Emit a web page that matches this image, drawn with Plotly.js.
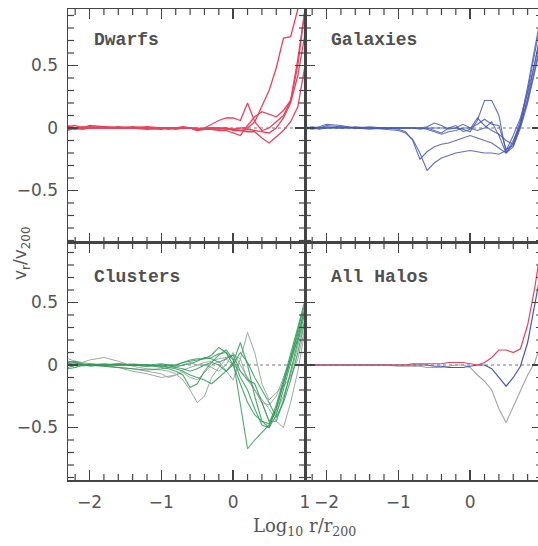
<!DOCTYPE html>
<html>
<head>
<meta charset="utf-8">
<script src="https://cdn.plot.ly/plotly-3.0.1.min.js"></script>
<style>
html,body{margin:0;padding:0;overflow:hidden;background:#fff;}
#chart{width:544px;height:546px;}
</style>
</head>
<body>
<div id="chart"></div>
<script>
// Shared log10 r/r200 sampling
const logR = [-2.3,-2.2,-2.1,-2.0,-1.8,-1.6,-1.4,-1.2,-1.0,-0.9,-0.8,-0.7,-0.6,-0.5,-0.4,-0.3,-0.2,-0.1,0.0,0.1,0.2,0.3,0.4,0.5,0.6,0.7,0.8,0.9,1.0,1.1];

// Dwarfs (red)
const dwarf1 = [0.01,0.02,0.0,0.02,0.01,0.0,0.0,0.01,0.0,0.0,0.0,0.01,0.0,-0.01,0.0,0.03,0.06,0.08,0.08,0.06,0.20,0.05,-0.02,0.0,0.05,0.10,0.22,0.55,0.95,1.40];
const dwarf2 = [-0.02,0.0,0.01,0.0,0.0,0.01,0.0,0.0,0.0,-0.01,0.0,0.0,0.0,-0.01,-0.01,0.0,0.0,-0.01,-0.01,0.0,0.0,0.05,0.17,0.30,0.48,0.72,0.73,0.95,1.30,1.70];
const dwarf3 = [0.0,-0.01,0.0,0.0,0.01,0.0,0.0,0.0,-0.01,0.0,0.0,0.0,0.0,-0.02,-0.01,-0.01,-0.02,-0.02,-0.04,-0.06,0.02,0.09,0.13,0.11,0.09,0.14,0.22,0.50,0.95,1.40];
const dwarf4 = [0.02,0.0,-0.01,0.0,0.0,0.0,0.01,0.0,0.0,0.0,-0.01,0.0,0.0,-0.02,0.0,0.0,-0.01,0.0,-0.02,-0.02,-0.03,-0.03,-0.08,-0.12,-0.07,-0.02,0.05,0.17,0.50,1.00];
const dwarf5 = [-0.01,0.0,0.0,0.01,0.0,0.0,0.0,-0.01,0.0,0.0,0.0,0.0,0.0,0.0,-0.01,0.0,0.0,0.0,-0.01,-0.02,-0.01,-0.02,-0.03,-0.04,0.0,0.08,0.20,0.42,0.75,1.20];

// Galaxies (blue)
const gal1 = [0.0,0.01,0.0,0.02,0.01,0.0,0.0,-0.01,-0.02,-0.04,-0.09,-0.20,-0.34,-0.28,-0.24,-0.22,-0.20,-0.19,-0.18,-0.19,-0.20,-0.20,-0.21,-0.18,-0.06,0.08,0.28,0.52,0.80,1.10];
const gal2 = [0.01,0.0,0.01,0.03,0.02,0.0,0.0,0.0,-0.01,-0.03,-0.10,-0.25,-0.19,-0.15,-0.13,-0.12,-0.10,-0.08,-0.06,-0.08,-0.10,-0.12,-0.16,-0.20,-0.10,0.03,0.22,0.47,0.75,1.05];
const gal3 = [0.0,0.0,-0.01,0.0,0.0,0.01,0.0,0.0,0.0,0.0,0.0,-0.01,0.0,0.0,0.0,0.0,0.0,-0.01,-0.03,0.06,0.22,0.22,0.10,-0.20,-0.15,0.0,0.20,0.45,0.70,1.00];
const gal4 = [-0.01,0.0,0.0,0.01,0.0,0.0,0.01,0.0,0.0,0.0,0.0,0.0,0.0,-0.02,-0.04,0.0,0.02,-0.03,-0.01,0.08,0.02,-0.02,-0.05,-0.10,-0.13,0.02,0.24,0.52,0.82,1.10];
const gal5 = [0.0,0.0,0.0,0.0,0.01,0.0,0.0,0.0,0.0,0.0,0.0,0.0,0.01,0.04,0.02,-0.01,0.0,0.03,0.0,0.03,0.07,0.03,0.02,-0.17,-0.14,0.03,0.30,0.60,0.92,1.20];
const gal6 = [0.0,-0.01,0.0,0.0,0.0,0.0,-0.01,0.0,0.0,0.0,0.0,0.0,-0.01,-0.03,-0.05,-0.03,-0.02,0.0,0.0,-0.02,0.0,0.05,-0.06,-0.20,-0.12,0.06,0.33,0.64,0.96,1.25];

// Clusters (green / grey-green)
const clu1 = [0.03,0.02,0.0,0.01,0.0,0.0,0.0,-0.01,0.0,-0.02,0.0,0.02,0.03,0.04,0.05,0.06,0.09,0.10,0.04,-0.30,-0.67,-0.60,-0.54,-0.48,-0.35,-0.16,0.05,0.25,0.45,0.65];
const clu2 = [0.0,-0.02,0.0,0.0,-0.01,-0.02,-0.05,-0.07,-0.10,-0.09,-0.08,-0.06,-0.10,-0.12,-0.06,0.0,0.03,-0.05,-0.12,0.05,0.26,0.10,-0.15,-0.28,-0.22,-0.17,-0.10,0.05,0.30,0.55];
const clu3 = [0.02,0.03,0.01,0.0,0.0,0.01,0.0,0.0,-0.01,0.0,-0.02,-0.03,-0.05,-0.03,0.0,0.02,0.0,-0.05,0.02,0.18,0.0,-0.25,-0.45,-0.50,-0.35,-0.15,0.05,0.28,0.50,0.70];
const clu4 = [-0.03,-0.02,0.0,0.0,0.01,0.0,0.0,0.0,0.01,0.0,0.0,0.02,0.04,0.05,0.05,0.08,0.14,0.10,0.0,-0.15,-0.30,-0.40,-0.45,-0.47,-0.32,-0.12,0.08,0.30,0.52,0.72];
const clu5 = [0.05,0.03,0.02,0.04,0.06,0.03,-0.01,-0.03,-0.04,-0.05,-0.07,-0.12,-0.20,-0.30,-0.25,-0.10,-0.02,0.05,0.0,-0.05,-0.10,-0.20,-0.30,-0.45,-0.38,-0.25,-0.08,0.15,0.38,0.60];
const clu6 = [0.0,0.0,0.01,-0.01,0.0,0.0,0.0,0.0,-0.02,-0.03,-0.05,-0.08,-0.18,-0.15,-0.05,0.02,0.08,0.12,0.05,-0.10,-0.20,-0.35,-0.48,-0.50,-0.40,-0.20,0.0,0.22,0.45,0.68];
const clu7 = [0.02,0.0,-0.01,0.0,0.0,0.0,0.01,0.0,-0.01,-0.02,-0.02,0.0,0.02,0.0,0.02,0.03,0.05,0.06,0.08,0.05,-0.12,-0.20,-0.28,-0.35,-0.45,-0.50,-0.30,-0.05,0.28,0.55];
const clu8 = [0.01,0.02,0.0,0.0,-0.01,-0.02,-0.03,-0.04,-0.03,-0.02,-0.03,-0.05,-0.08,-0.10,-0.12,-0.15,-0.10,-0.05,0.0,0.10,0.02,-0.10,-0.20,-0.30,-0.42,-0.30,-0.12,0.10,0.35,0.60];
const clu9 = [-0.02,0.0,0.0,0.0,0.0,0.01,0.0,-0.01,0.0,0.0,-0.01,0.0,0.01,0.03,0.06,0.05,0.02,0.05,0.08,-0.05,-0.12,-0.15,-0.30,-0.45,-0.45,-0.28,-0.05,0.18,0.42,0.66];
const clu10 = [0.0,0.01,0.02,0.01,0.0,-0.02,-0.03,-0.05,-0.07,-0.10,-0.08,-0.04,-0.02,0.0,0.0,-0.02,-0.05,0.0,0.10,0.0,-0.10,-0.20,-0.30,-0.32,-0.25,-0.10,0.05,0.20,0.35,0.50];

// All halos (averages)
const allDwarfs   = [0.0,0.0,0.0,0.0,0.0,0.0,0.0,0.0,0.0,0.0,0.01,0.01,0.01,0.01,0.01,0.02,0.02,0.02,0.01,0.0,0.02,0.06,0.12,0.12,0.10,0.13,0.32,0.62,1.00,1.40];
const allGalaxies = [0.0,0.0,0.0,0.0,0.0,0.0,0.0,0.0,0.0,0.0,0.0,0.0,0.0,-0.01,-0.01,-0.02,-0.02,-0.02,-0.01,0.0,0.0,-0.03,-0.10,-0.17,-0.10,-0.01,0.18,0.48,0.80,1.10];
const allClusters = [0.0,0.0,0.0,0.0,0.0,0.0,0.0,0.0,-0.01,-0.01,-0.01,-0.01,-0.02,-0.02,-0.02,-0.01,0.0,0.0,-0.02,-0.08,-0.13,-0.20,-0.35,-0.46,-0.33,-0.20,-0.08,0.02,0.20,0.40];

const panelNames = ["Dwarfs","Galaxies","Clusters","All Halos"];

const RED = '#e8435c', BLUE = '#4758b2', GREEN = '#2f9a58', GREYG = '#9aaba0', GREY = '#a3a3a3';

const traces = [];
function add(y, color, xa, ya, w, op){
  traces.push({x: logR, y: y, type:'scatter', mode:'lines', xaxis: xa, yaxis: ya,
    line:{color: color, width: w || 1.2}, opacity: op || 1, showlegend:false, hoverinfo:'skip'});
}
[dwarf1,dwarf2,dwarf3,dwarf4,dwarf5].forEach(s => add(s, RED, 'x', 'y', 1.3));
[gal1,gal2,gal3,gal4,gal5,gal6].forEach(s => add(s, BLUE, 'x2', 'y2', 1.1, 0.85));
[clu2,clu5,clu7,clu10].forEach(s => add(s, GREYG, 'x3', 'y3', 1.0));
[clu1,clu3,clu4,clu6,clu8,clu9].forEach(s => add(s, GREEN, 'x3', 'y3', 1.1, 0.85));
add(allClusters, GREY, 'x4', 'y4', 1.1);
add(allGalaxies, BLUE, 'x4', 'y4', 1.2);
add(allDwarfs, RED, 'x4', 'y4', 1.2);

const FRAME = '#444';
function xax(dom, anchor, labels){
  return {domain: dom, anchor: anchor, range: [-2.3, 1], showgrid:false, zeroline:false,
    showline:true, mirror:'allticks', linecolor:FRAME, linewidth:1.5,
    ticks:'inside', ticklen:10, tickwidth:1.5, tickcolor:FRAME, tickmode:'linear', dtick:1, tick0:0,
    showticklabels: labels, ticklabelstandoff: 6,
    tickfont:{family:'DejaVu Sans', size:17, color:'#555'}};
}
function yax(dom, anchor, labels, top){
  return {domain: dom, anchor: anchor, range: [-0.92, top], showgrid:false, zeroline:false,
    showline:true, mirror:'allticks', linecolor:FRAME, linewidth:1.5,
    ticks:'inside', ticklen:10, tickwidth:1.5, tickcolor:FRAME, tickmode:'linear', dtick:0.5, tick0:0,
    showticklabels: labels, ticklabelstandoff: 5,
    tickfont:{family:'DejaVu Sans', size:17, color:'#555'}};
}

// minor tick marks (axis decoration) as paper-referenced shapes
const panels = [['x','y'],['x2','y2'],['x3','y3'],['x4','y4']];
const PW = 474, PH = 471;           // plot area in px
const xDom = [[0,0.5],[0.5,1],[0,0.5],[0.5,1]];
const yDom = [[0.5032,1],[0.5032,1],[0,0.5032],[0,0.5032]];
const yRng = [[-0.92,0.952],[-0.92,0.952],[-0.92,0.976],[-0.92,0.976]];
const minorShapes = [];
const tx = 6 / PW, ty = 6 / PH;
panels.forEach((p, i) => {
  const [xa, xb] = xDom[i], [ya, yb] = yDom[i], [r0, r1] = yRng[i];
  for (let k = -11; k <= 5; k++) {
    if (k % 5 === 0) continue;
    const px = xa + (k / 5 + 2.3) / 3.3 * (xb - xa);
    minorShapes.push({type:'line', xref:'paper', yref:'paper', x0:px, x1:px, y0:ya, y1:ya + ty, line:{color:FRAME, width:1.2}});
    minorShapes.push({type:'line', xref:'paper', yref:'paper', x0:px, x1:px, y0:yb, y1:yb - ty, line:{color:FRAME, width:1.2}});
  }
  for (let k = -9; k <= 9; k++) {
    if (k % 5 === 0) continue;
    const py = ya + (k / 10 - r0) / (r1 - r0) * (yb - ya);
    minorShapes.push({type:'line', xref:'paper', yref:'paper', y0:py, y1:py, x0:xa, x1:xa + tx, line:{color:FRAME, width:1.2}});
    minorShapes.push({type:'line', xref:'paper', yref:'paper', y0:py, y1:py, x0:xb, x1:xb - tx, line:{color:FRAME, width:1.2}});
  }
});

const layout = {
  width: 544, height: 546,
  margin: {l:68, r:2, t:9, b:66},
  paper_bgcolor:'#fff', plot_bgcolor:'#fff',
  showlegend:false,
  xaxis: xax(xDom[0],'y',false),
  yaxis: yax(yDom[0],'x',true,yRng[0][1]),
  xaxis2: xax(xDom[1],'y2',false),
  yaxis2: yax(yDom[1],'x2',false,yRng[1][1]),
  xaxis3: xax(xDom[2],'y3',true),
  yaxis3: yax(yDom[2],'x3',true,yRng[2][1]),
  xaxis4: xax(xDom[3],'y4',true),
  yaxis4: yax(yDom[3],'x4',false,yRng[3][1]),
  shapes: panels.map(p => ({
    type:'line', xref: p[0]+' domain', yref: p[1], x0:0, x1:1, y0:0, y1:0,
    line:{color:'#777', width:1, dash:'dot'}, layer:'below'})).concat(minorShapes),
  annotations: [
    ...[['x','y',0.868],['x2','y2',0.868],['x3','y3',0.857],['x4','y4',0.857]].map((p,i) => ({
      text: panelNames[i], xref: p[0]+' domain', yref: p[1]+' domain', x:0.1, y:p[2],
      xanchor:'left', yanchor:'middle', showarrow:false,
      font:{family:'Liberation Mono', size:18, color:'#505050', weight:'bold'}})),
    {text:'v<sub>r</sub>/v<sub>200</sub>', xref:'paper', yref:'paper', x:-0.097, y:0.48,
     textangle:-90, showarrow:false, xanchor:'center', yanchor:'middle',
     font:{family:'DejaVu Sans', size:17, color:'#555'}},
    {text:'Log<sub>10</sub> r/r<sub>200</sub>', xref:'paper', yref:'paper', x:0.498, y:-0.1,
     showarrow:false, xanchor:'center', yanchor:'middle',
     font:{family:'DejaVu Serif', size:18, color:'#555'}}
  ]
};
Plotly.newPlot('chart', traces, layout, {staticPlot:true, displayModeBar:false});
</script>
</body>
</html>
